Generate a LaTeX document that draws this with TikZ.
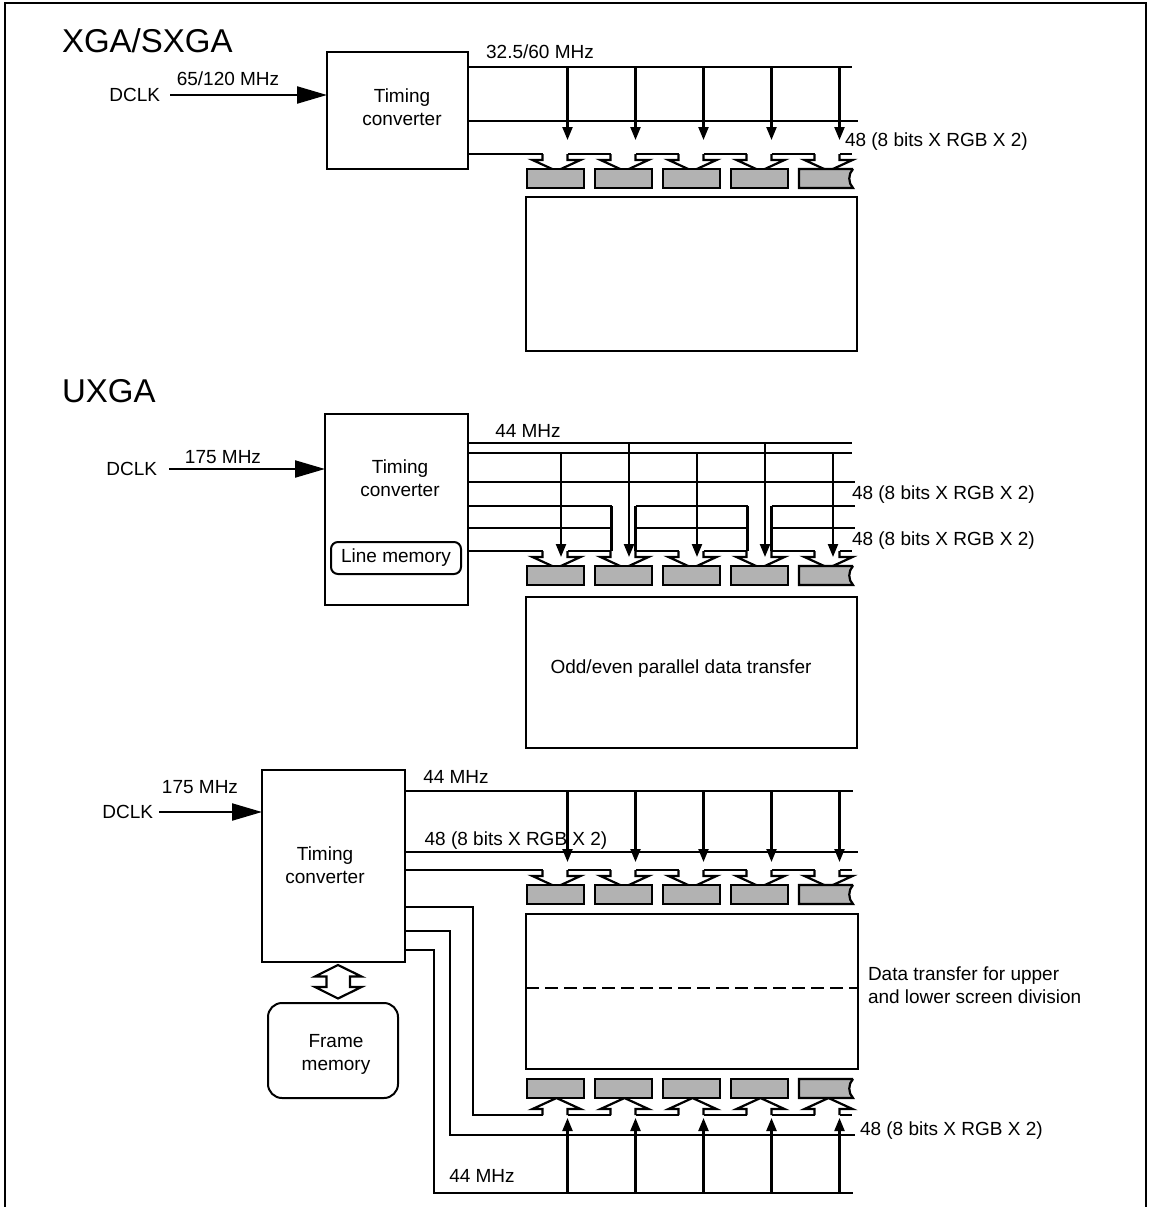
\documentclass[tikz,border=0pt]{standalone}
\usepackage{fontspec}
\setmainfont{Liberation Sans}
\usetikzlibrary{arrows.meta}
\begin{document}
\begin{tikzpicture}[x=1pt,y=-1pt,
  line width=2.2pt, line join=miter,
  every node/.style={font=\fontsize{19}{23}\selectfont, inner sep=0pt, outer sep=0pt},
  ttl/.style={font=\fontsize{33}{38}\selectfont, anchor=west},
  lbl/.style={anchor=west},
  bx/.style={draw, line width=2.2pt},
  clk/.style={-{Triangle[length=13pt,width=10pt]}},
  dclkarrow/.style={-{Triangle[length=30pt,width=17pt]}},
  panelbox/.style={draw, line width=2.2pt},
]
\useasboundingbox (0,0) rectangle (1154,1207);
\draw[line width=2pt] (5,1207) -- (5,3) -- (1146,3) -- (1146,1207);

% chevron helpers
\newcommand\dchev[2]{\draw (#1-13,#2) -- (#1-13,#2+6) -- (#1-23,#2+6) -- (#1+1,#2+17) -- (#1+25,#2+6) -- (#1+12,#2+6) -- (#1+12,#2);}
\newcommand\uchev[2]{\draw (#1-13,#2) -- (#1-13,#2-6) -- (#1-23,#2-6) -- (#1+1,#2-17) -- (#1+25,#2-6) -- (#1+12,#2-6) -- (#1+12,#2);}
\newcommand\blk[2]{\draw[fill=gray!60] (#1-28.5,#2) rectangle (#1+28.5,#2+19);}
\newcommand\blklast[2]{\draw[fill=gray!60] (853,#2) -- (#1-28.5,#2) -- (#1-28.5,#2+19) -- (853,#2+19) .. controls (848,#2+14) and (848,#2+5) .. (853,#2);}

%================ XGA/SXGA =================
\node[ttl] (t1) at (62,41) {XGA/SXGA};
\node[anchor=east] (dclk1) at (160,95) {DCLK};
\node (f1) at (228,79) {65/120 MHz};
\node[bx, minimum width=141pt, minimum height=117pt] (tc1) at (397.5,110.5) {};
\node[align=center] (tc1t) at (402,107) {Timing\\converter};
\draw[dclkarrow, shorten <=10pt] (dclk1.east) -- (dclk1.east -| tc1.west);

\coordinate (a1s) at (tc1.east |- 0,67);
\coordinate (a1e) at (852,67);
\coordinate (b1s) at (tc1.east |- 0,121);
\coordinate (b1e) at (858,121);
\coordinate (d1s) at (tc1.east |- 0,154);
\draw (a1s) -- (a1e);
\draw (b1s) -- (b1e);
\node (clk1) at (540,52) {32.5/60 MHz};
\node[lbl] (bus1) at (845,142) {48 (8 bits X RGB X 2)};
\draw (d1s) -- (542.5,154);
\foreach \c [count=\i] in {555.5,623.5,691.5,759.5,827.5}{
  \dchev{\c}{154}
  \ifnum\i<5 \draw (\c+12,154) -- (\c+55,154); \fi
  \draw[clk] (\c+12,67) -- (\c+12,140);
}
\draw (839.5,154) -- (852,154);
\foreach \c in {555.5,623.5,691.5,759.5}{\blk{\c}{169}}
\blklast{827.5}{169}
\node[panelbox, minimum width=331pt, minimum height=154pt] (p1) at (691.5,274) {};

%================ UXGA =================
\node[ttl] (t2) at (62,391) {UXGA};
\node[anchor=east] (dclk2) at (157,469) {DCLK};
\node (f2) at (223,457) {175 MHz};
\node[bx, minimum width=143pt, minimum height=191pt] (tc2) at (396.5,509.5) {};
\node[align=center] (tc2t) at (400,478) {Timing\\converter};
\node[draw, line width=2pt, rounded corners=7pt, minimum width=130pt, minimum height=32pt] (lm) at (396,558) {Line memory};
\draw[dclkarrow, shorten <=12pt] (dclk2.east) -- (dclk2.east -| tc2.west);
\node (clk2) at (528,431) {44 MHz};
\node[lbl] (bus2a) at (852,495) {48 (8 bits X RGB X 2)};
\node[lbl] (bus2b) at (852,541) {48 (8 bits X RGB X 2)};

\draw (tc2.east |- 0,443) -- (852,443);
\draw (tc2.east |- 0,453) -- (852,453);
\draw (tc2.east |- 0,482) -- (855,482);
% odd/even buses
\foreach \y in {506,528}{
  \draw (tc2.east |- 0,\y) -- (611.5,\y);
  \draw (635.5,\y) -- (747.5,\y);
  \draw (771.5,\y) -- (855,\y);
}
\draw (611.5,506) -- (611.5,551);
\draw (635.5,506) -- (635.5,551);
\draw (747.5,506) -- (747.5,551);
\draw (771.5,506) -- (771.5,551);
\draw (tc2.east |- 0,551) -- (542.5,551);
\foreach \c [count=\i] in {555.5,623.5,691.5,759.5,827.5}{
  \dchev{\c}{551}
}
\draw (567.5,551) -- (610.5,551);
\draw (635.5,551) -- (678.5,551);
\draw (703.5,551) -- (746.5,551);
\draw (771.5,551) -- (814.5,551);
\draw (839.5,551) -- (852,551);
\draw[clk] (561,453) -- (561,557);
\draw[clk] (629,443) -- (629,557);
\draw[clk] (697,453) -- (697,557);
\draw[clk] (765,443) -- (765,557);
\draw[clk] (833,453) -- (833,557);
\foreach \c in {555.5,623.5,691.5,759.5}{\blk{\c}{566}}
\blklast{827.5}{566}
\node[panelbox, minimum width=331pt, minimum height=151pt] (p2) at (691.5,672.5) {};
\node (p2t) at (681,669) {Odd/even parallel data transfer};

%================ third =================
\node[anchor=east] (dclk3) at (153,812) {DCLK};
\node (f3) at (200,787) {175 MHz};
\node[bx, minimum width=143pt, minimum height=192pt] (tc3) at (333.5,866) {};
\node[align=center] (tc3t) at (325,865) {Timing\\converter};
\draw[dclkarrow, shorten <=6pt] (dclk3.east) -- (dclk3.east -| tc3.west);
\node[draw, line width=2pt, rounded corners=14pt, minimum width=130pt, minimum height=95pt] (fm) at (333,1050.5) {};
\node[align=center] (fmt) at (336,1054) {Frame\\memory};
% double hollow arrow between converter and frame memory
\coordinate (hatop) at (338,965);
\coordinate (habot) at (338,998.5);
\draw (hatop) -- (361.5,976.5) -- (350,976.5) -- (350,987) -- (361.5,987) -- (habot) -- (315,987) -- (326.5,987) -- (326.5,976.5) -- (315,976.5) -- cycle;

\node (clk3) at (456,777) {44 MHz};
\node (bus3a) at (516,841) {48 (8 bits X RGB X 2)};
\draw (tc3.east |- 0,791) -- (853,791);
\draw (tc3.east |- 0,852) -- (858,852);
\draw (tc3.east |- 0,870) -- (542.5,870);
\foreach \c [count=\i] in {555.5,623.5,691.5,759.5,827.5}{
  \dchev{\c}{870}
  \ifnum\i<5 \draw (\c+12,870) -- (\c+55,870); \fi
  \draw[clk] (\c+12,791) -- (\c+12,862);
}
\draw (839.5,870) -- (852,870);
\foreach \c in {555.5,623.5,691.5,759.5}{\blk{\c}{885}}
\blklast{827.5}{885}
\node[panelbox, minimum width=332pt, minimum height=155pt] (p3) at (692,991.5) {};
\draw[dash pattern=on 13pt off 6pt] (p3.west |- 0,988) -- (p3.east |- 0,988);
\node[lbl, align=left] (p3t) at (868,985) {Data transfer for upper\\and lower screen division};

% bottom buses
\draw (tc3.east |- 0,907) -- (473,907) -- (473,1115) -- (542.5,1115);
\foreach \c [count=\i] in {555.5,623.5,691.5,759.5,827.5}{
  \uchev{\c}{1115}
  \ifnum\i<5 \draw (\c+12,1115) -- (\c+55,1115); \fi
  \draw[clk] (\c+12,1193) -- (\c+12,1118);
}
\draw (839.5,1115) -- (852,1115);
\draw (tc3.east |- 0,931) -- (450,931) -- (450,1135) -- (855,1135);
\draw (tc3.east |- 0,950) -- (434,950) -- (434,1193) -- (853,1193);
\foreach \c in {555.5,623.5,691.5,759.5}{\blk{\c}{1079}}
\blklast{827.5}{1079}
\node[lbl] (bus3b) at (860,1131) {48 (8 bits X RGB X 2)};
\node (clk3b) at (482,1176) {44 MHz};
\end{tikzpicture}
\end{document}
